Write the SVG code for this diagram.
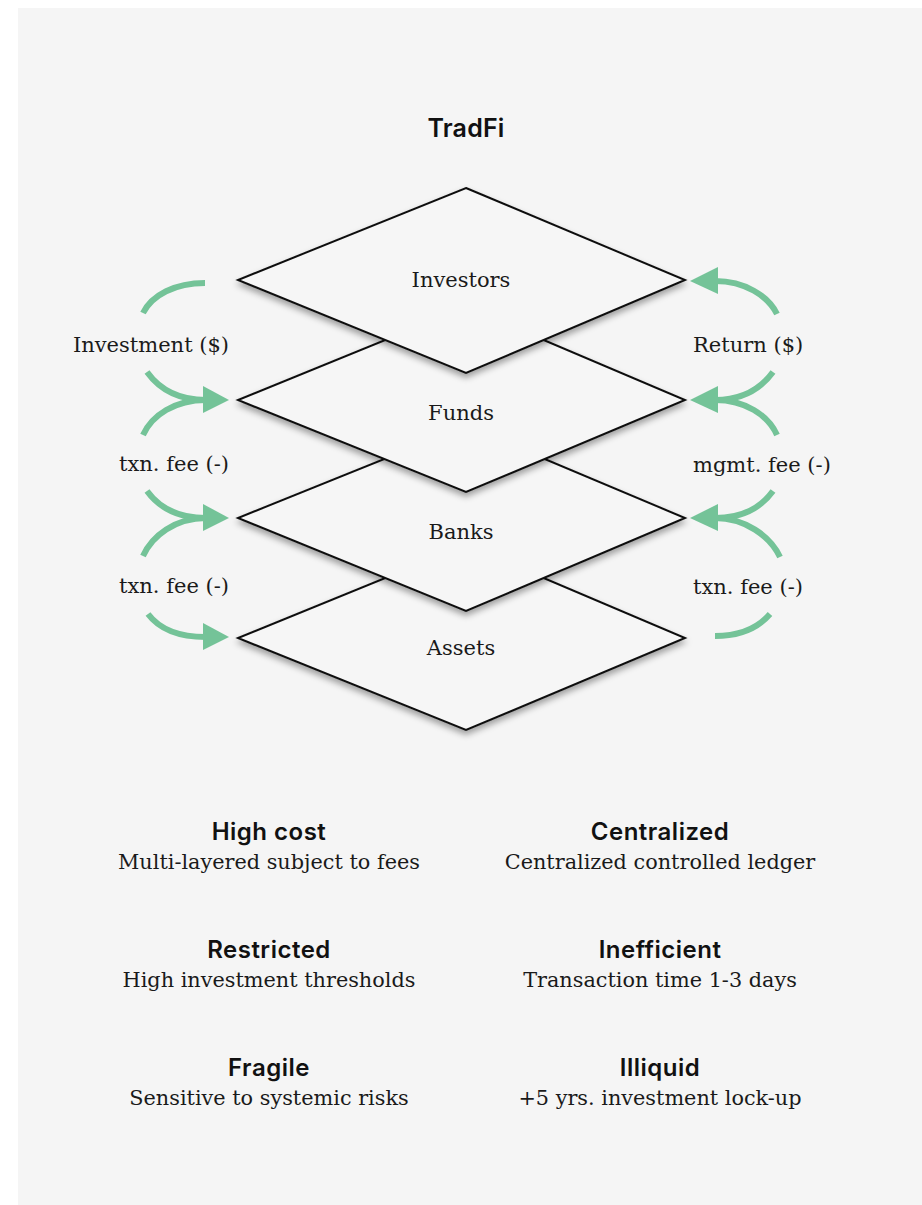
<svg xmlns="http://www.w3.org/2000/svg" width="922" height="1205" viewBox="0 0 922 1205">
  <style>
    .layer { fill: #f6f6f6; stroke: #111; stroke-width: 2; stroke-linejoin: miter; }
    .lbl { font-family: "DejaVu Serif", "Liberation Serif", serif; font-size: 21px; fill: #1a1a1a; }
    .head { font-family: Inter, "Liberation Sans", sans-serif; font-weight: 600; font-size: 24px; letter-spacing: 0.5px; fill: #111; text-anchor: middle; }
    .sub { font-family: "DejaVu Serif", "Liberation Serif", serif; font-size: 20.8px; fill: #1a1a1a; text-anchor: middle; }
    .flow { fill: none; stroke: #74c398; stroke-width: 6; }
    .tip { fill: #74c398; }
  </style>
  <defs>
    <filter id="shadow" x="-10%" y="-10%" width="120%" height="130%">
      <feDropShadow dx="0" dy="4" stdDeviation="3" flood-color="#000" flood-opacity="0.35"/>
    </filter>
  </defs>

  <rect x="18" y="8" width="904" height="1197" fill="#f5f5f5"/>

  <text x="466" y="137" class="head" style="font-size:25px;letter-spacing:0.2px">TradFi</text>

  <!-- stacked layers, bottom first -->
  <g id="assets">
    <polygon class="layer" filter="url(#shadow)" points="466,545 685,638 466,730 238,638"/>
    <text x="461" y="655" class="lbl" text-anchor="middle">Assets</text>
  </g>
  <g id="banks">
    <polygon class="layer" filter="url(#shadow)" points="466,426 685,518 466,611 238,518"/>
    <text x="461" y="539" class="lbl" text-anchor="middle">Banks</text>
  </g>
  <g id="funds">
    <polygon class="layer" filter="url(#shadow)" points="466,307 685,400 466,492 238,400"/>
    <text x="461" y="420" class="lbl" text-anchor="middle">Funds</text>
  </g>
  <g id="investors">
    <polygon class="layer" filter="url(#shadow)" points="466,188 685,280 466,373 238,280"/>
    <text x="461" y="287" class="lbl" text-anchor="middle">Investors</text>
  </g>

  <!-- money flows -->
  <g id="connectors">
    <!-- down the stack (left) -->
    <path class="flow" d="M143,313 C152,295 175,283 205,283"/>
    <path class="flow" d="M147,372 C160,390 180,400 206,400"/>
    <path class="flow" d="M143,435 C152,415 175,400 206,400"/>
    <polygon class="tip" points="229,400 203,386 203,413"/>
    <path class="flow" d="M147,491 C160,509 180,518 206,518"/>
    <path class="flow" d="M143,556 C152,536 175,518 206,518"/>
    <polygon class="tip" points="229,518 203,504 203,531"/>
    <path class="flow" d="M148,614 C160,630 180,637 206,637"/>
    <polygon class="tip" points="229,637 203,623 203,650"/>

    <!-- up the stack (right) -->
    <path class="flow" d="M777,314 C768,296 745,281 715,281"/>
    <polygon class="tip" points="690,281 718,267 718,294"/>
    <path class="flow" d="M773,372 C760,390 740,400 715,400"/>
    <path class="flow" d="M777,435 C768,415 745,400 715,400"/>
    <polygon class="tip" points="690,400 718,386 718,413"/>
    <path class="flow" d="M773,491 C760,509 740,518 715,518"/>
    <path class="flow" d="M780,557 C770,536 745,518 715,518"/>
    <polygon class="tip" points="690,518 718,504 718,531"/>
    <path class="flow" d="M770,614 C758,628 740,636 715,636"/>
  </g>

  <g id="flow-labels">
    <text x="229" y="352" class="lbl" text-anchor="end">Investment ($)</text>
    <text x="229" y="471" class="lbl" text-anchor="end">txn. fee (-)</text>
    <text x="229" y="593" class="lbl" text-anchor="end">txn. fee (-)</text>
    <text x="693" y="352" class="lbl">Return ($)</text>
    <text x="693" y="472" class="lbl">mgmt. fee (-)</text>
    <text x="693" y="594" class="lbl">txn. fee (-)</text>
  </g>

  <g id="traits">
    <text x="269" y="840" class="head">High cost</text>
    <text x="269" y="869" class="sub">Multi-layered subject to fees</text>
    <text x="660" y="840" class="head">Centralized</text>
    <text x="660" y="869" class="sub">Centralized controlled ledger</text>
    <text x="269" y="958" class="head">Restricted</text>
    <text x="269" y="987" class="sub">High investment thresholds</text>
    <text x="660" y="958" class="head">Inefficient</text>
    <text x="660" y="987" class="sub">Transaction time 1-3 days</text>
    <text x="269" y="1076" class="head">Fragile</text>
    <text x="269" y="1105" class="sub">Sensitive to systemic risks</text>
    <text x="660" y="1076" class="head">Illiquid</text>
    <text x="660" y="1105" class="sub">+5 yrs. investment lock-up</text>
  </g>
</svg>
